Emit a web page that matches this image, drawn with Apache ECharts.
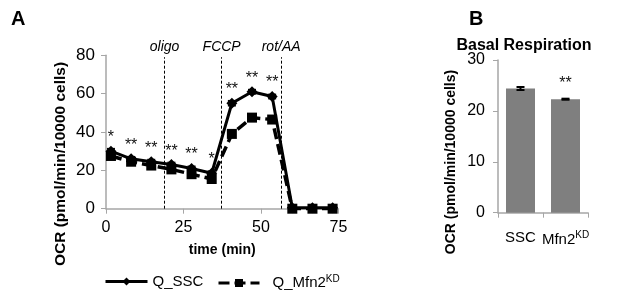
<!DOCTYPE html>
<html>
<head>
<meta charset="utf-8">
<script src="https://cdn.jsdelivr.net/npm/echarts@6/dist/echarts.min.js"></script>
<style>
  html, body { margin: 0; padding: 0; background: #fff; }
  #chart { width: 617px; height: 308px; }
</style>
</head>
<body>
<div id="chart"></div>
<script>
// panel A
const times = [1.6, 8.1, 14.6, 21.1, 27.6, 34.1, 40.6, 47.1, 53.6, 60.1, 66.6, 73.1]
const ssc = [30, 26, 24.5, 23, 21, 18.5, 55, 61, 58.5, 0.5, 0.5, 0.5]
const sscErr = [1.2, 1, 1, 1, 1, 1, 1.2, 1, 1, 0.5, 0.5, 0.5]
const mfn2 = [27.5, 24.5, 22.5, 20.5, 18, 15.5, 39, 47.5, 46.5, 0, 0, 0]
const mfn2Err = [1, 1, 1.2, 1, 1, 1, 1.5, 1, 1, 0.5, 0.5, 0.5]
const stars = ['*', '**', '**', '**', '**', '*', '**', '**', '**', '', '', '']
const injections = [['oligo', 18.9], ['FCCP', 37.3], ['rot/AA', 56.5]]

// panel B
const groups = ['SSC', 'Mfn2KD']
const basal = [24.4, 22.3]
const basalErr = [0.3, 0.1]
const basalStars = ['', '**']

const txt = '#000'
const axisGrey = '#a6a6a6'
const font = 'Liberation Sans'
const supStyle = { fontFamily: font, fontSize: 10, verticalAlign: 'top', padding: [0, 0, 8, 0], color: txt }

let chart = echarts.init(document.getElementById('chart'))

// 误差线
const errBars = (xs, ys, errs, xIdx, yIdx, cap) => ({
    type: 'custom',
    xAxisIndex: xIdx,
    yAxisIndex: yIdx,
    silent: true,
    z: 5,
    data: ys.map((v, i) => [xs[i], v - errs[i], v + errs[i]]),
    renderItem: (params, api) => {
        let lo = api.coord([api.value(0), api.value(1)])
        let hi = api.coord([api.value(0), api.value(2)])
        let st = { stroke: '#000', lineWidth: 2 }
        return {
            type: 'group',
            children: [
                { type: 'line', shape: { x1: lo[0], y1: lo[1], x2: hi[0], y2: hi[1] }, style: st },
                { type: 'line', shape: { x1: lo[0] - cap, y1: lo[1], x2: lo[0] + cap, y2: lo[1] }, style: st },
                { type: 'line', shape: { x1: hi[0] - cap, y1: hi[1], x2: hi[0] + cap, y2: hi[1] }, style: st }
            ]
        }
    }
})

const yName = (x, y, size) => ({
    type: 'text',
    x: x,
    y: y,
    rotation: Math.PI / 2,
    style: {
        text: 'OCR (pmol/min/10000 cells)',
        font: 'bold ' + size + 'px Liberation Sans',
        fill: txt,
        align: 'center',
        verticalAlign: 'middle'
    }
})

let option = {
    animation: false,
    textStyle: { fontFamily: font, color: txt },
    graphic: [
        { type: 'text', left: 11, top: 9, style: { text: 'A', font: 'bold 20px Liberation Sans', fill: txt } },
        { type: 'text', left: 469, top: 9, style: { text: 'B', font: 'bold 20px Liberation Sans', fill: txt } },
        yName(61, 164, 15.5),
        yName(451, 162, 14)
    ],
    title: {
        text: 'Basal Respiration',
        left: 519,
        top: 33,
        textAlign: 'center',
        textStyle: { fontFamily: font, fontSize: 16, fontWeight: 'bold', color: txt }
    },
    legend: [
        {
            data: ['Q_SSC'],
            left: 104,
            top: 274,
            padding: 0,
            itemWidth: 42,
            itemHeight: 10,
            lineStyle: { width: 3 },
            textStyle: { fontFamily: font, fontSize: 15, color: txt }
        },
        {
            data: ['Q_Mfn2KD'],
            left: 217,
            top: 274,
            padding: 0,
            itemWidth: 41,
            itemHeight: 10,
            lineStyle: { width: 3 },
            formatter: () => 'Q_Mfn2{sup|KD}',
            textStyle: {
                fontFamily: font, fontSize: 15, color: txt, padding: [0, 0, 0, 8],
                rich: { sup: supStyle }
            }
        }
    ],
    grid: [
        { left: 106, top: 55.3, width: 232.5, height: 153.4 },
        { left: 498, top: 60, width: 90, height: 152.7 }
    ],
    xAxis: [
        {
            type: 'value',
            gridIndex: 0,
            min: 0,
            max: 75,
            interval: 25,
            name: 'time (min)',
            nameLocation: 'middle',
            nameGap: 34,
            nameTextStyle: { fontFamily: font, fontSize: 14, fontWeight: 'bold', color: txt },
            axisLine: { lineStyle: { color: axisGrey, width: 1.5 } },
            axisTick: { show: true, length: 5, lineStyle: { color: axisGrey } },
            axisLabel: { fontFamily: font, fontSize: 16, color: txt, margin: 11 },
            splitLine: { show: false }
        },
        {
            type: 'category',
            gridIndex: 1,
            data: groups,
            axisLine: { lineStyle: { color: axisGrey, width: 1.5 } },
            axisTick: { show: true, length: 5, lineStyle: { color: axisGrey } },
            axisLabel: {
                interval: 0,
                hideOverlap: false,
                fontFamily: font, fontSize: 15, color: txt, margin: 18,
                formatter: v => v === 'Mfn2KD' ? 'Mfn2{sup|KD}' : v,
                rich: { sup: supStyle }
            }
        }
    ],
    yAxis: [
        {
            type: 'value',
            gridIndex: 0,
            min: 0,
            max: 80,
            interval: 20,
            axisLine: { show: true, lineStyle: { color: axisGrey, width: 1.5 } },
            axisTick: { show: true, length: 5, lineStyle: { color: axisGrey } },
            axisLabel: { fontFamily: font, fontSize: 17, color: txt, margin: 11 },
            splitLine: { show: false }
        },
        {
            type: 'value',
            gridIndex: 1,
            min: 0,
            max: 30,
            interval: 10,
            axisLine: { show: true, lineStyle: { color: axisGrey, width: 1.5 } },
            axisTick: { show: true, length: 5, lineStyle: { color: axisGrey } },
            axisLabel: { fontFamily: font, fontSize: 16, color: txt, margin: 13 },
            splitLine: { show: false }
        }
    ],
    series: [
        {
            name: 'Q_Mfn2KD',
            type: 'line',
            xAxisIndex: 0,
            yAxisIndex: 0,
            data: times.map((t, i) => [t, mfn2[i]]),
            symbol: 'rect',
            symbolSize: 10,
            itemStyle: { color: '#000' },
            lineStyle: { color: '#000', width: 3.5, type: [11, 5] },
            z: 3,
            markLine: {
                silent: true,
                symbol: 'none',
                lineStyle: { color: '#000', type: [3, 2], width: 1 },
                label: {
                    show: true,
                    position: 'end',
                    distance: 3,
                    fontFamily: font,
                    fontSize: 14,
                    fontStyle: 'italic',
                    color: txt
                },
                data: injections.map(d => [
                    { coord: [d[1], 0], label: { formatter: d[0] } },
                    { coord: [d[1], 79] }
                ])
            }
        },
        {
            name: 'Q_SSC',
            type: 'line',
            xAxisIndex: 0,
            yAxisIndex: 0,
            data: times.map((t, i) => [t, ssc[i]]),
            symbol: 'diamond',
            symbolSize: 11,
            itemStyle: { color: '#000' },
            lineStyle: { color: '#000', width: 3 },
            z: 4,
            label: {
                show: true,
                position: 'top',
                distance: 0,
                formatter: p => stars[p.dataIndex],
                fontFamily: font,
                fontSize: 16,
                color: '#111'
            }
        },
        errBars(times, ssc, sscErr, 0, 0, 4),
        errBars(times, mfn2, mfn2Err, 0, 0, 4),
        {
            type: 'bar',
            xAxisIndex: 1,
            yAxisIndex: 1,
            data: basal,
            barWidth: 29,
            itemStyle: { color: '#7f7f7f' },
            label: {
                show: true,
                position: 'top',
                distance: 8,
                formatter: p => basalStars[p.dataIndex],
                fontFamily: font,
                fontSize: 16,
                color: '#111'
            }
        },
        errBars(groups, basal, basalErr, 1, 1, 4)
    ]
}

chart.setOption(option)
</script>
</body>
</html>
